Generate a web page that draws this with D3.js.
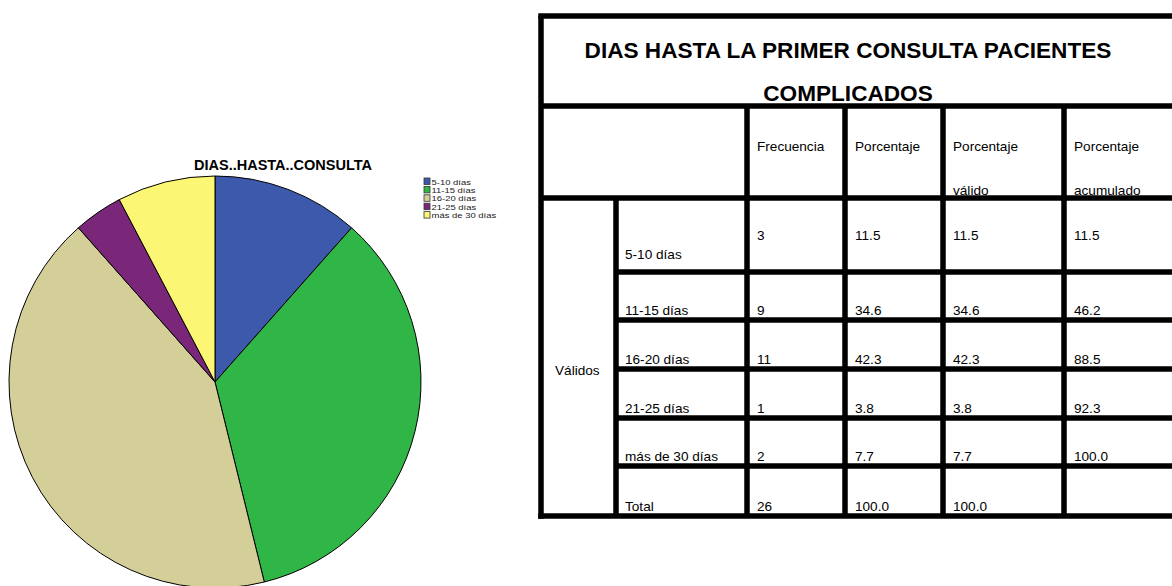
<!DOCTYPE html>
<html>
<head>
<meta charset="utf-8">
<script src="https://d3js.org/d3.v7.min.js"></script>
<style>
  body { margin: 0; background: #fff; }
  text { font-family: "Liberation Sans", Arial, sans-serif; }
</style>
</head>
<body>
<svg id="chart" width="1172" height="586"></svg>
<script>
// data
const categories = ["5-10 días", "11-15 días", "16-20 días", "21-25 días", "más de 30 días"];
const frecuencia = [3, 9, 11, 1, 2];
const porcentaje = ["11.5", "34.6", "42.3", "3.8", "7.7"];
const porcValido = ["11.5", "34.6", "42.3", "3.8", "7.7"];
const porcAcum = ["11.5", "46.2", "88.5", "92.3", "100.0"];
const totalRow = ["Total", "26", "100.0", "100.0", ""];
const colors = ["#3d59ab", "#2fb647", "#d4ce98", "#7b2779", "#fbf673"];
const headers = [["Frecuencia"], ["Porcentaje"], ["Porcentaje", "válido"], ["Porcentaje", "acumulado"]];

const svg = d3.select("#chart");

// ---- pie ----
const cx = 215, cy = 382, r = 206;
const pie = d3.pie().sort(null).value(d => d.v);
const arc = d3.arc().innerRadius(0).outerRadius(r);
const pieData = categories.map((c, i) => ({c: c, v: frecuencia[i], col: colors[i]}));

const gPie = svg.append("g").attr("transform", `translate(${cx},${cy})`);
gPie.selectAll("path").data(pie(pieData)).enter().append("path")
  .attr("d", arc)
  .attr("fill", d => d.data.col)
  .attr("stroke", "#000")
  .attr("stroke-width", 1);

svg.append("text")
  .attr("x", 283).attr("y", 170)
  .attr("text-anchor", "middle")
  .style("font-size", "14.5px").style("font-weight", "bold")
  .text("DIAS..HASTA..CONSULTA");

// legend (tight spacing like the original, text stretched a bit horizontally)
const leg = svg.append("g").attr("transform", "translate(424,178)");
const items = leg.selectAll("g").data(pieData).enter().append("g")
  .attr("transform", (d, i) => `translate(0,${i * 8.4})`);
items.append("rect").attr("width", 6).attr("height", 6.5)
  .attr("fill", d => d.col).attr("stroke", "#333").attr("stroke-width", 0.8);
items.append("text")
  .attr("transform", "translate(7.5,6.6) scale(1.28,1)")
  .style("font-size", "7.4px").attr("fill", "#222")
  .text(d => d.c);

// ---- table ----
const tL = 541, tR = 1180, tT = 16, tB = 516;
const colX = [tL, 616, 747, 845, 943, 1064, tR];
const rowY = [106, 198, 272, 320, 369, 418, 466, tB];
const lw = 5.5;
const t = svg.append("g");

function hline(x1, x2, y) {
  t.append("line").attr("x1", x1).attr("x2", x2).attr("y1", y).attr("y2", y)
    .attr("stroke", "#000").attr("stroke-width", lw);
}
function vline(x, y1, y2) {
  t.append("line").attr("x1", x).attr("x2", x).attr("y1", y1).attr("y2", y2)
    .attr("stroke", "#000").attr("stroke-width", lw);
}

hline(tL - lw / 2, tR, tT);
hline(tL - lw / 2, tR, tB);
vline(tL, tT, tB + lw / 2);
hline(tL, tR, rowY[0]);
hline(tL, tR, rowY[1]);
for (let i = 2; i < rowY.length - 1; i++) hline(colX[1], tR, rowY[i]);
vline(colX[1], rowY[1], tB);
for (let j = 2; j < colX.length - 1; j++) vline(colX[j], rowY[0], tB);

// title
const tc = 848;
t.append("text").attr("x", tc).attr("y", 58).attr("text-anchor", "middle")
  .style("font-size", "22.6px").style("font-weight", "bold")
  .text("DIAS HASTA LA PRIMER CONSULTA PACIENTES");
t.append("text").attr("x", tc).attr("y", 101).attr("text-anchor", "middle")
  .style("font-size", "22.6px").style("font-weight", "bold")
  .text("COMPLICADOS");

// header cells
const fs = "13.6px";
headers.forEach((h, j) => {
  h.forEach((s, k) => {
    t.append("text").attr("x", colX[j + 2] + 10).attr("y", 151 + k * 44)
      .style("font-size", fs).text(s);
  });
});

// body
t.append("text").attr("x", 555).attr("y", 375).style("font-size", fs).text("Válidos");
categories.forEach((c, i) => {
  const first = i === 0;
  const base = rowY[i + 2] - 5;
  t.append("text").attr("x", colX[1] + 9).attr("y", first ? 259 : base)
    .style("font-size", fs).text(c);
  [frecuencia[i], porcentaje[i], porcValido[i], porcAcum[i]].forEach((v, j) => {
    t.append("text").attr("x", colX[j + 2] + 10).attr("y", first ? 240 : base)
      .style("font-size", fs).text(v);
  });
});
totalRow.forEach((v, j) => {
  t.append("text").attr("x", colX[j + 1] + (j === 0 ? 9 : 10)).attr("y", tB - 5)
    .style("font-size", fs).text(v);
});
</script>
</body>
</html>
